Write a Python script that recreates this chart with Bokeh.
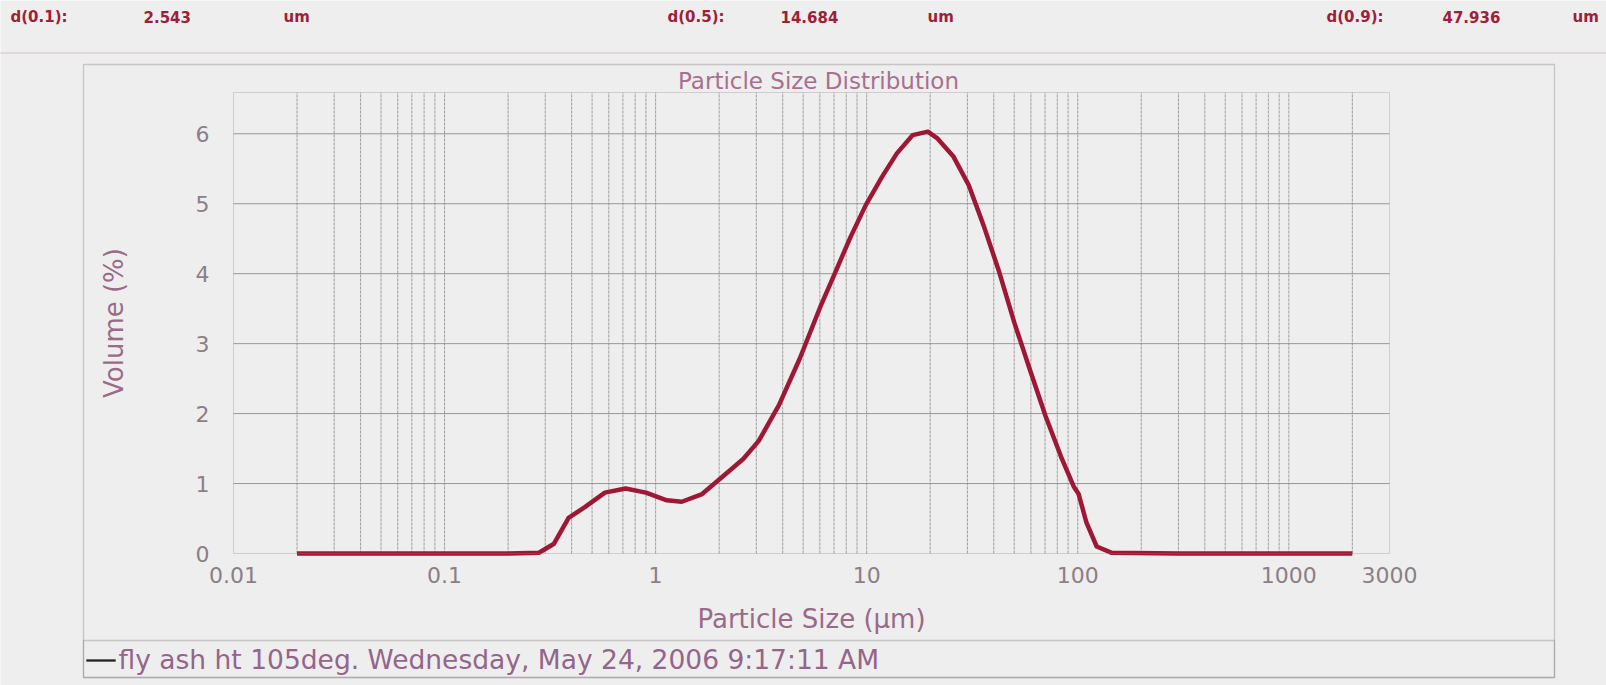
import math
from bokeh.plotting import figure
from bokeh.models import Range1d, FixedTicker, Label, BoxAnnotation, ColumnDataSource
from bokeh.embed import file_html
from bokeh.resources import INLINE

# ---------------- data ----------------
sizes = [0.02, 0.05, 0.1, 0.2, 0.28, 0.33, 0.387, 0.46, 0.575, 0.72, 0.90, 1.13, 1.33,
         1.66, 2.08, 2.6, 3.08, 3.84, 4.81, 6.0, 7.1, 8.4, 9.9, 11.8, 13.9, 16.5, 19.5,
         21.7, 25.7, 30.4, 35.9, 42.5, 50.2, 59.3, 70.3, 83.2, 96, 101, 110, 123, 145,
         300, 1000, 2000]
volume = [0, 0, 0, 0, 0.01, 0.14, 0.51, 0.66, 0.87, 0.93, 0.87, 0.76, 0.74,
          0.85, 1.10, 1.35, 1.61, 2.12, 2.78, 3.51, 4.02, 4.53, 4.98, 5.38, 5.72, 5.98, 6.03,
          5.93, 5.68, 5.27, 4.68, 4.02, 3.29, 2.63, 1.97, 1.39, 0.95, 0.85, 0.44, 0.10, 0.01,
          0, 0, 0]

x_major = [0.01, 0.1, 1, 10, 100, 1000, 3000]
x_labels = ["0.01", "0.1", "1", "10", "100", "1000", "3000"]
x_minor = [m * 10.0 ** e for e in range(-2, 4) for m in range(2, 10) if m * 10.0 ** e < 3000]
y_ticks = [0, 1, 2, 3, 4, 5, 6]

header_names = ["d(0.1):", "d(0.5):", "d(0.9):"]
header_values = ["2.543", "14.684", "47.936"]
header_unit = "um"
title_text = "Particle Size Distribution"
x_title = "Particle Size (µm)"
y_title = "Volume (%)"
legend_text = "fly ash ht 105deg. Wednesday, May 24, 2006 9:17:11 AM"

# ---------------- layout ----------------
W, H = 1606, 685
F_L, F_R, F_T, F_B = 233, 1389, 92, 553  # plot area in canvas pixels
X0, X1 = 0.01, 3000
YMAX = 6.59
LX0, LX1 = math.log10(X0), math.log10(X1)

def px2x(X):
    return 10 ** (LX0 + (X - F_L) / (F_R - F_L) * (LX1 - LX0))

def px2y(Y):
    return (F_B - Y) / (F_B - F_T) * YMAX

BG = "#eeeeee"
CURVE = "#9e1836"
HEAD = "#9e2038"
MAUVE = "#9a6a88"
TICK = "#8c7e87"
GRID = "#8a8a8a"
FONT = "DejaVu Sans"

p = figure(width=W, height=H, x_axis_type="log",
           x_range=Range1d(px2x(0), px2x(W)), y_range=Range1d(px2y(H), px2y(0)),
           output_backend="svg", toolbar_location=None, min_border=0)
p.background_fill_color = BG
p.border_fill_color = BG
p.outline_line_color = None
p.xgrid.visible = False
p.ygrid.visible = False

# grid lines of the plot area, at the tick positions
vx = [v for v in x_major + x_minor if X0 < v < X1]
p.segment(x0=vx, x1=vx, y0=[0] * len(vx), y1=[YMAX] * len(vx),
          line_color=GRID, line_alpha=0.8, line_width=1, line_dash="3 1")
hy = [v for v in y_ticks if v > 0]
p.segment(x0=[X0] * len(hy), x1=[X1] * len(hy), y0=hy, y1=hy,
          line_color=GRID, line_alpha=0.85, line_width=1)
p.add_layout(BoxAnnotation(left=X0, right=X1, bottom=0, top=YMAX, fill_alpha=0,
                           line_color="#858585", line_width=1))

# axes fixed at the plot-area edges
xt = FixedTicker(ticks=x_major, minor_ticks=x_minor)
p.xaxis.ticker = xt
p.xaxis.fixed_location = 0
p.xaxis.bounds = (X0, X1)
p.xaxis.major_label_overrides = {v: s for v, s in zip(x_major, x_labels)}
p.yaxis.ticker = FixedTicker(ticks=y_ticks)
p.yaxis.fixed_location = X0
p.yaxis.bounds = (0, YMAX)

for ax in (p.xaxis, p.yaxis):
    ax.axis_line_color = None
    ax.major_tick_line_color = None
    ax.minor_tick_line_color = None
    ax.major_label_text_font = FONT
    ax.major_label_text_font_size = "22px"
    ax.major_label_text_color = TICK
    ax.axis_label_text_font = FONT
    ax.axis_label_text_font_style = "normal"
    ax.axis_label_text_color = MAUVE

p.xaxis.major_label_standoff = 7
p.yaxis.major_label_standoff = 18
p.xaxis.axis_label = x_title
p.xaxis.axis_label_text_font_size = "26px"
p.xaxis.axis_label_standoff = 18
p.yaxis.axis_label = y_title
p.yaxis.axis_label_text_font_size = "26px"
p.yaxis.axis_label_standoff = 64

src = ColumnDataSource(dict(x=sizes, y=volume))
p.line("x", "y", source=src, line_color=CURVE, line_width=4.5, line_join="round")

# ---------------- decorations ----------------
def box(l, r, t, b, color="#6f676b", width=1.3, fill=None):
    p.add_layout(BoxAnnotation(left=px2x(l), right=px2x(r), top=px2y(t), bottom=px2y(b),
                               fill_color=fill, fill_alpha=1 if fill else 0,
                               line_color=color, line_width=width))

def label(x, y, text, size, color, align="left", style="normal"):
    p.add_layout(Label(x=px2x(x), y=px2y(y), text=text,
                       text_font=FONT, text_font_size=size, text_color=color,
                       text_align=align, text_baseline="middle", text_font_style=style))

# header rule and outer frame
box(-2, W + 2, 52, 53, color="#c4a3b4", width=1)
box(83, 1554, 64, 677)
box(83, 1554, 640, 677)

# header values
head_x = [(10, 143, 283), (667, 780, 927), (1326, 1442, 1572)]
for (xn, xv, xu), n, v in zip(head_x, header_names, header_values):
    label(xn, 16, n, "15px", HEAD, style="bold")
    label(xv, 16, v, "15px", HEAD, style="bold")
    label(xu, 16, header_unit, "15px", HEAD, style="bold")

# title
label(818, 80, title_text, "23px", "#a8708f", align="center")

# legend
box(86, 115, 659, 661, color="#222222", width=1, fill="#222222")
label(118, 659, legend_text, "26.5px", "#94658a")

open("out.html", "w").write(file_html(p, INLINE))
